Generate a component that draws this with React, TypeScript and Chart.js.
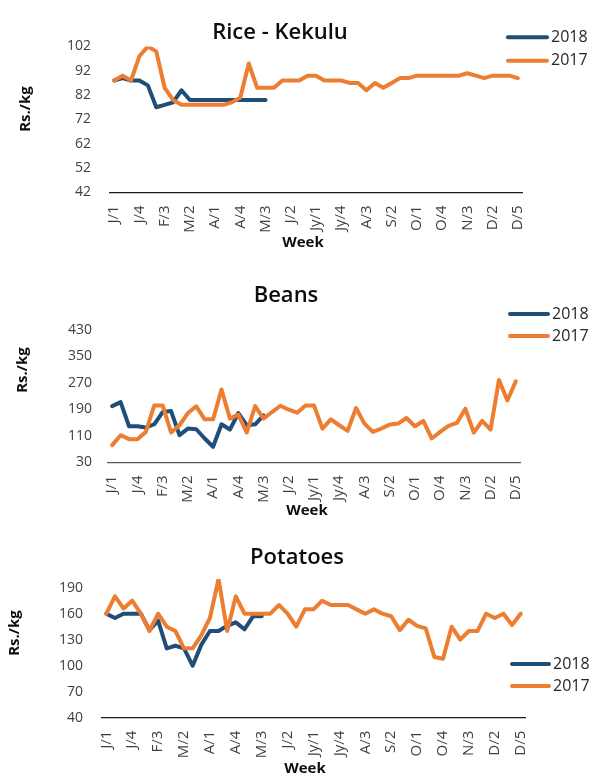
import React, { useEffect, useRef } from "react";
import { Chart, registerables } from "chart.js";

Chart.register(...registerables);

const weekLabels = [
  "J/1", "J/2", "J/3", "J/4", "F/1", "F/2", "F/3", "F/4", "M/1", "M/2", "M/3", "M/4",
  "A/1", "A/2", "A/3", "A/4", "M/1", "M/2", "M/3", "M/4", "J/1", "J/2", "J/3", "J/4",
  "Jy/1", "Jy/2", "Jy/3", "Jy/4", "A/1", "A/2", "A/3", "A/4", "S/1", "S/2", "S/3", "S/4",
  "O/1", "O/2", "O/3", "O/4", "N/1", "N/2", "N/3", "N/4", "D/1", "D/2", "D/3", "D/4", "D/5",
];

const seriesNames = ["2018", "2017"];

const rice2018 = [88, 89, 88, 88, 86, 77, 78, 79, 84, 80, 80, 80, 80, 80, 80, 80, 80, 80, 80];
const rice2017 = [
  88, 90, 88, 98, 102, 100, 85, 80, 78, 78, 78, 78, 78, 78, 79, 81, 95, 85, 85, 85,
  88, 88, 88, 90, 90, 88, 88, 88, 87, 87, 84, 87, 85, 87, 89, 89, 90, 90, 90, 90,
  90, 90, 91, 90, 89, 90, 90, 90, 89,
];

const beans2018 = [200, 212, 139, 139, 135, 145, 182, 185, 112, 132, 130, 102, 77, 145, 129, 179, 142, 145, 172];
const beans2017 = [
  82, 112, 100, 100, 122, 202, 202, 120, 142, 179, 199, 160, 160, 250, 162, 174, 120, 200, 162, 182,
  201, 189, 180, 202, 202, 132, 160, 142, 125, 194, 147, 122, 132, 144, 147, 164, 139, 155, 102, 122,
  140, 149, 192, 120, 155, 129, 279, 217, 275,
];

const potatoes2018 = [160, 155, 160, 160, 160, 141, 152, 120, 123, 120, 100, 124, 140, 140, 146, 150, 142, 157, 157];
const potatoes2017 = [
  160, 180, 166, 175, 160, 140, 160, 145, 140, 120, 120, 135, 155, 200, 140, 180, 160, 160, 160, 160,
  170, 160, 145, 165, 165, 175, 170, 170, 170, 165, 160, 165, 160, 157, 141, 153, 146, 143, 110, 108,
  145, 130, 140, 140, 160, 155, 160, 147, 160,
];

const riceTicks = [42, 52, 62, 72, 82, 92, 102];
const beansTicks = [30, 110, 190, 270, 350, 430];
const potatoTicks = [40, 70, 100, 130, 160, 190];

const BLUE = "#1F4E79";
const ORANGE = "#ED7D31";
const FONT = "'Open Sans', 'Liberation Sans', Arial, sans-serif";
const CANVAS_W = 584;

const decorPlugin = {
  id: "decor",
  afterDraw(chart: any, _args: any, opts: any) {
    const ctx = chart.ctx as CanvasRenderingContext2D;
    ctx.save();
    ctx.fillStyle = "#0d0d0d";
    ctx.textAlign = "center";
    ctx.textBaseline = "middle";
    ctx.font = `600 22px ${FONT}`;
    ctx.fillText(opts.title, opts.titleX, opts.titleY);

    ctx.save();
    ctx.translate(opts.yTitleX, opts.yTitleY);
    ctx.rotate(-Math.PI / 2);
    ctx.font = `bold 15px ${FONT}`;
    ctx.fillText("Rs./kg", 0, 0);
    ctx.restore();

    ctx.font = `bold 15px ${FONT}`;
    ctx.fillText("Week", opts.xTitleX, opts.xTitleY);

    chart.data.datasets.forEach((ds: any, i: number) => {
      const y = opts.legendY[i];
      ctx.strokeStyle = ds.borderColor;
      ctx.lineWidth = 4;
      ctx.lineCap = "round";
      ctx.beginPath();
      ctx.moveTo(opts.legendX1 + 2, y);
      ctx.lineTo(opts.legendX2 - 2, y);
      ctx.stroke();
      ctx.fillStyle = "#262626";
      ctx.font = `16px ${FONT}`;
      ctx.textAlign = "left";
      ctx.fillText(ds.label, opts.legendX2 + 2, y);
    });
    ctx.restore();
  },
};

type PanelCfg = {
  height: number;
  left: number;
  right: number;
  top: number;
  bottom: number;
  min: number;
  max: number;
  ticks: number[];
  tickPad: number;
  axisColor: string;
  s2018: number[];
  s2017: number[];
  decor: any;
};

const panels: PanelCfg[] = [
  {
    height: 250, left: 102, right: 514, top: 38.5, bottom: 184.3,
    min: 42, max: 102, ticks: riceTicks, tickPad: 19, axisColor: "#1a1a1a",
    s2018: rice2018, s2017: rice2017,
    decor: {
      title: "Rice - Kekulu", titleX: 272, titleY: 24.5,
      yTitleX: 17.5, yTitleY: 101, xTitleX: 295, xTitleY: 234.5,
      legendX1: 498, legendX2: 541, legendY: [29.3, 52.7],
    },
  },
  {
    height: 262, left: 100, right: 512, top: 72, bottom: 204.3,
    min: 30, max: 430, ticks: beansTicks, tickPad: 16, axisColor: "#595959",
    s2018: beans2018, s2017: beans2017,
    decor: {
      title: "Beans", titleX: 278, titleY: 37.8,
      yTitleX: 15, yTitleY: 112, xTitleX: 299, xTitleY: 253,
      legendX1: 500, legendX2: 542, legendY: [56, 78],
    },
  },
  {
    height: 255, left: 94, right: 517, top: 59, bottom: 197.7,
    min: 40, max: 200, ticks: potatoTicks, tickPad: 19, axisColor: "#1a1a1a",
    s2018: potatoes2018, s2017: potatoes2017,
    decor: {
      title: "Potatoes", titleX: 289, titleY: 37.5,
      yTitleX: 7, yTitleY: 113, xTitleX: 297, xTitleY: 248.5,
      legendX1: 502, legendX2: 543, legendY: [144, 166],
    },
  },
];

function Panel({ cfg }: { cfg: PanelCfg }) {
  const ref = useRef<HTMLCanvasElement>(null);
  useEffect(() => {
    if (!ref.current) return;
    const chart = new Chart(ref.current, {
      type: "line",
      data: {
        labels: weekLabels,
        datasets: [
          {
            label: seriesNames[0], data: cfg.s2018, borderColor: BLUE, backgroundColor: BLUE,
            borderWidth: 4, pointRadius: 0, tension: 0, order: 2,
            borderJoinStyle: "round", borderCapStyle: "round",
          },
          {
            label: seriesNames[1], data: cfg.s2017, borderColor: ORANGE, backgroundColor: ORANGE,
            borderWidth: 4, pointRadius: 0, tension: 0, order: 1,
            borderJoinStyle: "round", borderCapStyle: "round",
          },
        ],
      },
      options: {
        responsive: false,
        animation: false,
        events: [],
        layout: { padding: { top: cfg.top, right: CANVAS_W - cfg.right, left: 0, bottom: 0 } },
        plugins: {
          legend: { display: false },
          tooltip: { enabled: false },
          title: { display: false },
          decor: cfg.decor,
        } as any,
        scales: {
          x: {
            type: "category",
            offset: true,
            grid: { display: false, drawTicks: false },
            border: { display: true, color: cfg.axisColor, width: 1.3 },
            ticks: {
              autoSkip: false,
              maxRotation: 90,
              minRotation: 90,
              padding: 13,
              color: "#404040",
              font: { size: 15, family: FONT },
              callback: (_v: any, i: number) => (i % 3 === 0 ? weekLabels[i] : ""),
            },
            afterFit: (s: any) => {
              s.height = cfg.height - cfg.bottom;
            },
          },
          y: {
            min: cfg.min,
            max: cfg.max,
            grid: { display: false, drawTicks: false },
            border: { display: false },
            ticks: {
              padding: cfg.tickPad,
              color: "#404040",
              font: { size: 14, family: FONT },
            },
            afterBuildTicks: (s: any) => {
              s.ticks = cfg.ticks.map((v) => ({ value: v }));
            },
            afterFit: (s: any) => {
              s.width = cfg.left;
            },
          },
        },
      },
      plugins: [decorPlugin],
    } as any);
    return () => chart.destroy();
  }, [cfg]);
  return <canvas ref={ref} width={CANVAS_W} height={cfg.height} style={{ display: "block" }} />;
}

export default function App() {
  return (
    <div style={{ position: "fixed", left: 8, top: 8, width: CANVAS_W, background: "#fff" }}>
      {panels.map((p, i) => (
        <Panel key={i} cfg={p} />
      ))}
    </div>
  );
}
